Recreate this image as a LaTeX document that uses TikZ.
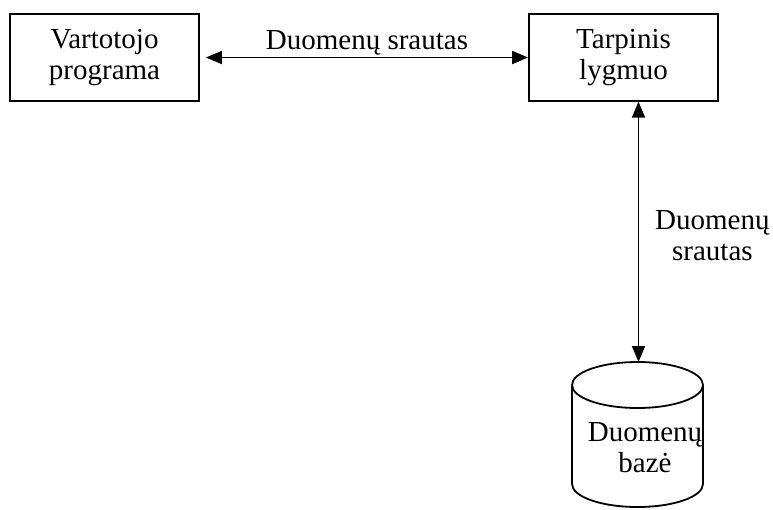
\documentclass[tikz,border=0pt]{standalone}
\usepackage{fontspec}
\setmainfont{Liberation Serif}
\usetikzlibrary{arrows.meta}
\begin{document}
\begin{tikzpicture}[x=1pt,y=-1pt,
  every node/.style={font=\rmfamily\fontsize{29}{31}\selectfont, inner sep=0pt},
  box/.style={draw, line width=1.8pt, minimum width=189pt, minimum height=86.5pt, align=center},
  tip/.style={Triangle[length=16pt,width=13pt]},
  flow/.style={line width=1.8pt, {Triangle[length=16pt,width=13pt]}-{Triangle[length=16pt,width=13pt]}},
  lbl/.style={align=center}]
  \useasboundingbox (0,0) rectangle (773,509);
  % application and middle tier
  \node[box] (app) at (104.5,57.5) {Vartotojo\\programa};
  \node[box] (mid) at (623.5,57.5) {Tarpinis\\lygmuo};
  % database cylinder
  \begin{scope}[line width=1.8pt]
    \draw (637.5,385) ellipse [x radius=65.5, y radius=23];
    \draw (572,385) -- (572,484) arc [start angle=180, end angle=360, x radius=65.5, y radius=-23] -- (703,385);
  \end{scope}
  \coordinate (dbtop) at (638.5,362);
  \node[lbl] (db) at (645,448) {Duomenų\\bazė};
  % data flows
  \draw[flow] ([xshift=6pt]app.east) -- (mid.west)
    node[midway, anchor=base, yshift=8pt] (f1) {Duomenų srautas};
  \draw[flow] ([xshift=15pt]mid.south) -- (dbtop);
  \node[lbl, anchor=west] (f2) at (655,236) {Duomenų\\srautas};
\end{tikzpicture}
\end{document}
